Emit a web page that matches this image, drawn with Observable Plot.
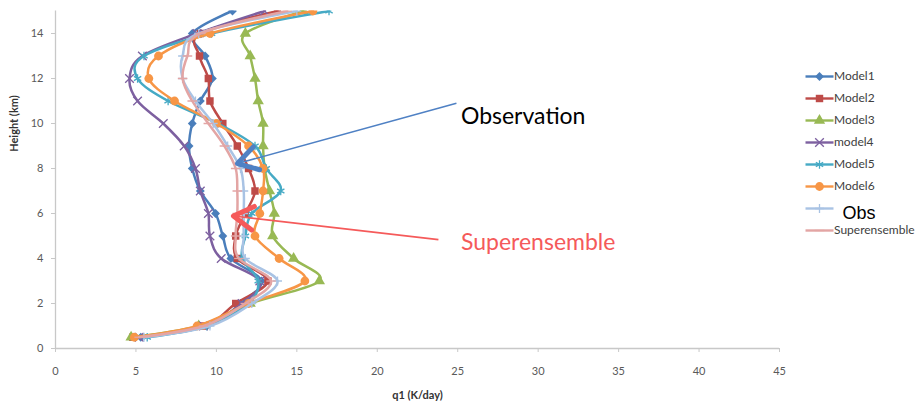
<!DOCTYPE html>
<html><head><meta charset="utf-8">
<script src="https://cdn.jsdelivr.net/npm/d3@7"></script>
<script src="https://cdn.jsdelivr.net/npm/@observablehq/plot@0.6"></script>
<style>
body{margin:0;background:#fff;}
#wrap{position:relative;width:919px;height:407px;overflow:hidden;}
#wrap svg{position:absolute;}
</style></head><body><div id="wrap"></div>
<script>
// ---- data ----
const heights = [0.5, 1, 2, 3, 4, 5, 6, 7, 8, 9, 10, 11, 12, 13, 14, 15];
const model1 = [5.3, 9.4, 11.5, 12.8, 10.9, 10.4, 9.95, 9.0, 8.5, 8.3, 8.5, 9.0, 9.75, 9.3, 8.5, 11.0];
const model2 = [4.8, 9.2, 11.2, 13.2, 11.3, 11.2, 11.8, 12.4, 12.0, 11.3, 10.4, 9.6, 9.5, 8.95, 9.0, 13.8];
const model3 = [4.7, 8.9, 12.1, 16.4, 14.8, 13.5, 13.6, 13.3, 13.0, 12.9, 12.9, 12.6, 12.4, 12.1, 11.8, 15.4];
const model4 = [5.2, 9.2, 11.6, 12.7, 10.3, 9.6, 9.5, 9.0, 8.7, 8.0, 6.7, 5.1, 4.6, 5.4, 8.8, 13.0];
const model5 = [5.7, 9.4, 12.0, 12.6, 11.6, 11.8, 12.2, 14.0, 13.1, 12.4, 10.1, 7.0, 5.1, 5.5, 9.7, 17.0];
const model6 = [4.9, 8.8, 12.0, 15.5, 13.9, 12.4, 12.7, 12.9, 12.9, 12.0, 10.0, 7.4, 5.8, 6.4, 9.6, 16.0];
const obs    = [5.5, 9.6, 12.2, 13.8, 11.8, 11.7, 11.7, 11.7, 11.5, 10.7, 9.8, 8.7, 7.9, 7.9, 8.9, 15.0];
const superensemble = [5.2, 9.2, 11.8, 13.4, 11.4, 11.2, 11.3, 11.3, 11.2, 10.5, 9.5, 8.5, 7.9, 8.2, 9.0, 14.4];

const seriesNames = ["Model1", "Model2", "Model3", "model4", "Model5", "Model6", "Obs", "Superensemble"];
const seriesValues = [model1, model2, model3, model4, model5, model6, obs, superensemble];

const xTicks = [0, 5, 10, 15, 20, 25, 30, 35, 40, 45];
const yTicks = [0, 2, 4, 6, 8, 10, 12, 14];
const xTitle = "q1 (K/day)";
const yTitle = "Height (km)";

// annotations (data units: q1, km)
const annotLabels = ["Observation", "Superensemble"];
const annotTextX = [25.2, 25.2];
const annotTextY = [10.31, 4.71];
const arrowTailX = [24.92, 23.8];
const arrowTailY = [10.9, 4.84];
const arrowTipX = [11.31, 11.06];
const arrowTipY = [8.22, 5.89];

// ---- styles ----
const colors = ["#4A7EBB", "#BE4B48", "#98B954", "#7D60A0", "#46AAC5", "#F79646", "#A9C3E4", "#E3A5A4"];
const annotColors = ["#4F81C4", "#F55A5A"];
const annotTextColors = ["#000000", "#F55A5A"];
const dashSymbol = {draw(ctx, size) { const w = Math.sqrt(size) * 0.75; ctx.moveTo(-w, 0); ctx.lineTo(w, 0); }};
const symbols = ["diamond2", "square", "triangle", "times", "asterisk", "circle", "plus", dashSymbol];
const filled = [true, true, true, false, false, true, false, false];
const radii = [4, 4.2, 4.2, 4, 4, 4.4, 3, 3.6];
const chevron = {draw(ctx, l) {
  const a = 31 * Math.PI / 180;
  ctx.moveTo(l * Math.sin(a), -l * Math.cos(a));
  ctx.lineTo(0, 0);
  ctx.lineTo(-l * Math.sin(a), -l * Math.cos(a));
}};

const series = seriesNames.map((name, k) => heights.map((h, i) => ({name, h, v: seriesValues[k][i]})));
const annots = annotLabels.map((t, i) => ({t, tx: annotTextX[i], ty: annotTextY[i], x1: arrowTailX[i], y1: arrowTailY[i], x2: arrowTipX[i], y2: arrowTipY[i], c: annotColors[i], tc: annotTextColors[i], rot: 0}));

function seriesMarks() {
  const m = [];
  series.forEach((d, k) => {
    m.push(Plot.line(d, {x: "v", y: "h", curve: "cardinal", tension: 0, stroke: colors[k], strokeWidth: 2.5, clip: true}));
    m.push(Plot.dot(d, {x: "v", y: "h", symbol: symbols[k], r: radii[k],
      fill: filled[k] ? colors[k] : "none", stroke: filled[k] ? "none" : colors[k], strokeWidth: 1.3, clip: true}));
  });
  return m;
}

function build(withHeads) {
  const marks = [
    Plot.ruleX([0], {stroke: "#c8c8c8", strokeWidth: 1.3}),
    Plot.ruleY([0], {stroke: "#c8c8c8", strokeWidth: 1.3}),
    Plot.axisX({ticks: xTicks, tickSize: 4, tickPadding: 15, stroke: "#c8c8c8", fill: "#595959", label: null, fontSize: 11}),
    Plot.axisY({ticks: yTicks, tickSize: 4, tickPadding: 8, stroke: "#c8c8c8", fill: "#595959", label: null, fontSize: 11}),
    Plot.text([xTitle], {frameAnchor: "bottom", dy: 50, fontWeight: "bold", fontSize: 11, fill: "#333"}),
    Plot.text([yTitle], {x: () => 0, y: () => 10, dx: -41, rotate: -90, fontWeight: "bold", fontSize: 11, fill: "#333"}),
    ...seriesMarks(),
    Plot.link(annots, {x1: "x1", y1: "y1", x2: "x2", y2: "y2", stroke: "c", strokeWidth: 1.6}),
    Plot.text(annots, {x: "tx", y: "ty", text: "t", fill: "tc", textAnchor: "start", fontSize: 23, fontFamily: "Lato"})
  ];
  if (withHeads) {
    marks.push(Plot.vector(annots, {x: "x2", y: "y2", rotate: "rot", length: 23, anchor: "start", shape: chevron,
      stroke: "c", strokeWidth: 5, fill: "none"}));
  }
  return Plot.plot({
    width: 919, height: 407,
    marginLeft: 55, marginRight: 140, marginTop: 10.5, marginBottom: 59,
    x: {domain: [0, 45]},
    y: {domain: [0, 15]},
    style: {fontFamily: "Lato", fontSize: "11px", background: "transparent", overflow: "visible"},
    marks
  });
}

let chart = build(false);
const sx = chart.scale("x"), sy = chart.scale("y");
annots.forEach(a => {
  const dx = sx.apply(a.x1) - sx.apply(a.x2), dy = sy.apply(a.y1) - sy.apply(a.y2);
  a.rot = Math.atan2(dx, -dy) * 180 / Math.PI;
});
chart = build(true);
chart.style.left = "0px"; chart.style.top = "0px";
document.getElementById("wrap").appendChild(chart);

// ---- legend ----
const legendRows = seriesNames.map((name, k) => ({name, k}));
const legendMarks = [];
legendRows.forEach((r) => {
  const k = r.k;
  legendMarks.push(Plot.link([r], {x1: () => 0, x2: () => 1, y1: "name", y2: "name", stroke: colors[k], strokeWidth: 2.4}));
  legendMarks.push(Plot.dot([r], {x: () => 0.5, y: "name", symbol: symbols[k], r: radii[k],
    fill: filled[k] ? colors[k] : "none", stroke: filled[k] ? "none" : colors[k], strokeWidth: 1.3}));
});
const normalRows = legendRows.filter(r => r.name !== "Obs");
const obsRows = legendRows.filter(r => r.name === "Obs");
legendMarks.push(Plot.text(normalRows, {x: () => 1, y: "name", text: "name", textAnchor: "start", dx: 0.5, fontSize: 12, fontFamily: "Lato", fill: "#404040"}));
legendMarks.push(Plot.text(obsRows, {x: () => 1, y: "name", text: "name", textAnchor: "start", dx: 9, dy: 5, fontSize: 18, fontFamily: "Liberation Sans", fill: "#000"}));
const legend = Plot.plot({
  width: 124, height: 205,
  margin: 0,
  x: {domain: [0, 1], range: [10, 38], axis: null},
  y: {type: "point", domain: seriesNames, range: [15, 191.7], axis: null},
  style: {background: "transparent", overflow: "visible"},
  marks: legendMarks
});
legend.style.left = "795px"; legend.style.top = "50px";
document.getElementById("wrap").appendChild(legend);
</script></body></html>
